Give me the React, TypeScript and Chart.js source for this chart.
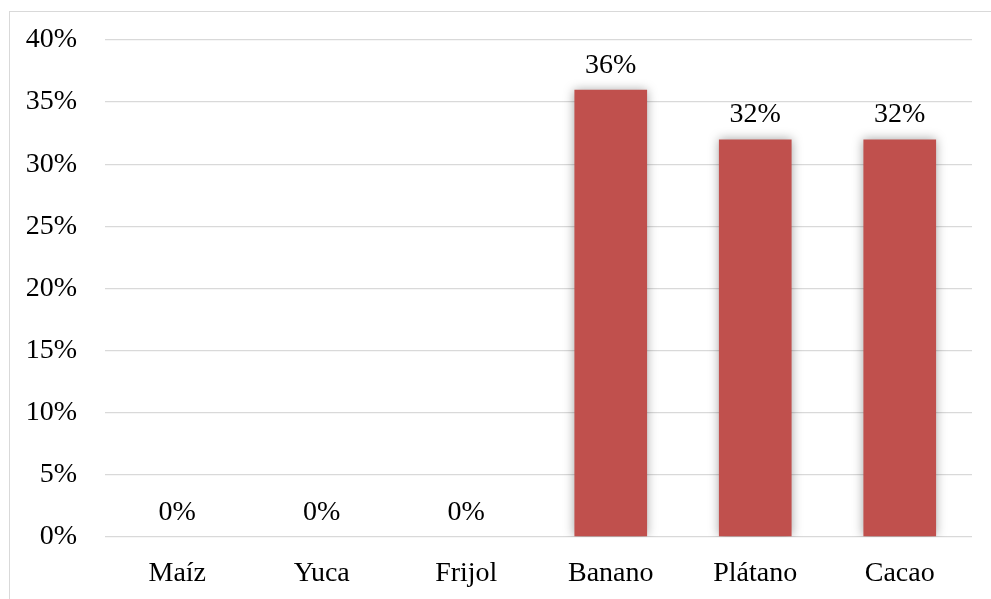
import React, { useEffect, useRef } from "react";
import { Chart, registerables } from "chart.js";

Chart.register(...registerables);

const categories = ["Maíz", "Yuca", "Frijol", "Banano", "Plátano", "Cacao"];
const values = [0, 0, 0, 36, 32, 32];
const yTicks = { min: 0, max: 40, step: 5 };

const FONT = "'Liberation Serif', 'Times New Roman', serif";

const shadowPlugin = {
  id: "barShadow",
  beforeDatasetsDraw(chart: any) {
    const ctx = chart.ctx;
    ctx.save();
    ctx.shadowColor = "rgba(0,0,0,0.35)";
    ctx.shadowBlur = 10;
    ctx.shadowOffsetX = 0;
    ctx.shadowOffsetY = 0;
  },
  afterDatasetsDraw(chart: any) {
    chart.ctx.restore();
  },
};

const labelPlugin = {
  id: "valueLabels",
  afterDatasetsDraw(chart: any) {
    const ctx = chart.ctx;
    const meta = chart.getDatasetMeta(0);
    ctx.save();
    ctx.font = `28px ${FONT}`;
    ctx.fillStyle = "#000";
    ctx.textAlign = "center";
    ctx.textBaseline = "alphabetic";
    meta.data.forEach((bar: any, i: number) => {
      const v = chart.data.datasets[0].data[i];
      ctx.fillText(`${v}%`, bar.x, bar.y - 17);
    });
    ctx.restore();
  },
};

export default function App() {
  const ref = useRef<HTMLCanvasElement>(null);
  useEffect(() => {
    if (!ref.current) return;
    const chart = new Chart(ref.current, {
      type: "bar",
      data: {
        labels: categories,
        datasets: [
          {
            data: values,
            backgroundColor: "#C0504D",
            borderWidth: 0,
            categoryPercentage: 1,
            barPercentage: 0.503,
          },
        ],
      },
      options: {
        animation: false,
        responsive: false,
        maintainAspectRatio: false,
        layout: { padding: { top: 40, right: 19, bottom: 0, left: 0 } },
        plugins: { legend: { display: false }, tooltip: { enabled: false } },
        scales: {
          x: {
            grid: { display: false },
            border: { display: false },
            ticks: {
              color: "#000",
              font: { family: FONT, size: 28 },
              padding: 12,
              maxRotation: 0,
            },
            afterFit(scale: any) {
              scale.height = 62;
            },
          },
          y: {
            min: yTicks.min,
            max: yTicks.max,
            grid: { color: "#d9d9d9", lineWidth: 1.3, drawTicks: false },
            border: { display: false },
            ticks: {
              stepSize: yTicks.step,
              color: "#000",
              font: { family: FONT, size: 28 },
              padding: 28,
              callback: (v: any) => `${v}%`,
            },
            afterFit(scale: any) {
              scale.width = 105;
              scale.paddingTop = 0;
              scale.paddingBottom = 0;
            },
          },
        },
      },
      plugins: [shadowPlugin, labelPlugin],
    });
    return () => chart.destroy();
  }, []);

  return (
    <div
      style={{
        position: "fixed",
        left: 0,
        top: 0,
        width: 991,
        height: 599,
        overflow: "hidden",
        background: "#fff",
      }}
    >
      <div
        style={{
          position: "absolute",
          left: 9,
          top: 11,
          width: 1100,
          height: 700,
          borderLeft: "1.5px solid #d9d9d9",
          borderTop: "1.5px solid #d9d9d9",
        }}
      />
      <canvas
        ref={ref}
        width={991}
        height={599}
        style={{ position: "absolute", left: 0, top: 0, width: 991, height: 599 }}
      />
    </div>
  );
}
